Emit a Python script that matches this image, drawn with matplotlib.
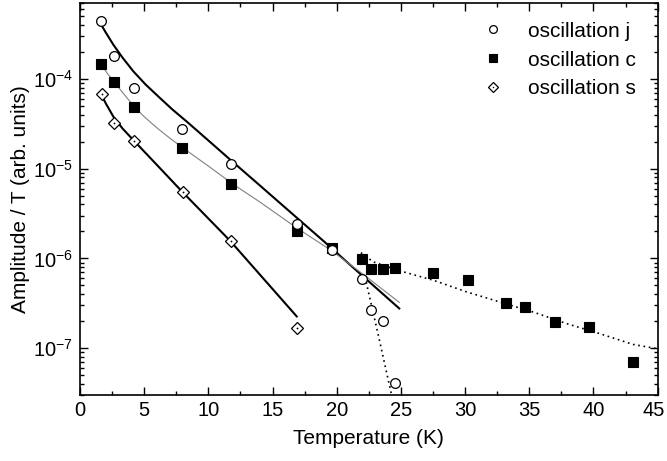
import matplotlib
matplotlib.use("Agg")
import matplotlib.pyplot as plt
from matplotlib.ticker import LogLocator, MultipleLocator, NullFormatter
from matplotlib.transforms import ScaledTranslation

# measured points (Temperature K, Amplitude/T)
j_T = [1.64, 2.65, 4.18, 7.94, 11.76, 16.88, 19.60, 21.99, 22.66, 23.60, 24.53]
j_A = [4.4e-4, 1.79e-4, 7.85e-5, 2.76e-5, 1.13e-5, 2.42e-6, 1.24e-6, 5.87e-7, 2.64e-7, 1.99e-7, 4.07e-8]

c_T = [1.64, 2.67, 4.18, 7.94, 11.76, 16.88, 19.60, 21.99, 22.66, 23.60, 24.56,
       27.49, 30.22, 33.20, 34.68, 36.99, 39.66, 43.09]
c_A = [1.48e-4, 9.16e-5, 4.87e-5, 1.72e-5, 6.76e-6, 2.03e-6, 1.31e-6, 9.75e-7, 7.59e-7,
       7.59e-7, 7.8e-7, 6.86e-7, 5.68e-7, 3.17e-7, 2.91e-7, 1.96e-7, 1.74e-7, 6.94e-8]

s_T = [1.71, 2.67, 4.18, 8.00, 11.78, 16.88]
s_A = [6.73e-5, 3.27e-5, 2.05e-5, 5.55e-6, 1.56e-6, 1.69e-7]

# fit curves
j_fit_T = [1.64, 2.0, 2.59, 3.3, 4.15, 5.1, 6.23, 7.2, 8.31, 10.38, 11.76, 14.0, 16.88,
           19.0, 21.03, 22.33, 24.87]
j_fit_A = [4.05e-4, 3.31e-4, 2.42e-4, 1.74e-4, 1.22e-4, 8.71e-5, 6.14e-5, 4.57e-5, 3.36e-5,
           1.85e-5, 1.24e-5, 6.53e-6, 2.85e-6, 1.55e-6, 8.51e-7, 5.82e-7, 2.77e-7]

c_fit_T = [1.64, 2.1, 2.67, 3.4, 4.18, 5.0, 6.0, 7.0, 7.94, 10.0, 12.0, 14.0, 16.88,
           19.6, 22.0, 24.87]
c_fit_A = [1.47e-4, 1.17e-4, 9.23e-5, 6.84e-5, 5.01e-5, 3.80e-5, 2.85e-5, 2.19e-5, 1.74e-5,
           1.07e-5, 6.61e-6, 4.27e-6, 2.19e-6, 1.22e-6, 6.76e-7, 3.24e-7]

s_fit_T = [1.64, 2.0, 2.6, 3.3, 4.15, 5.97, 7.92, 11.68, 16.88]
s_fit_A = [6.79e-5, 5.37e-5, 3.80e-5, 2.82e-5, 2.09e-5, 1.11e-5, 5.62e-6, 1.58e-6, 2.26e-7]

c_high_T = [21.88, 22.84, 24.92, 27.52, 30.12, 32.71, 35.30, 37.90, 40.50, 43.09, 44.99]
c_high_A = [1.16e-6, 9.16e-7, 7.27e-7, 5.72e-7, 4.24e-7, 3.27e-7, 2.53e-7, 1.88e-7, 1.45e-7, 1.10e-7, 9.86e-8]

j_drop_T = [22.20, 23.25, 24.28]
j_drop_A = [6.22e-7, 1.37e-7, 2.97e-8]

x_ticks = [0, 5, 10, 15, 20, 25, 30, 35, 40, 45]

plt.rcParams.update({
    "font.family": ["Liberation Sans", "DejaVu Sans"],
    "mathtext.fontset": "custom",
    "mathtext.rm": "Liberation Sans",
    "mathtext.it": "Liberation Sans:italic",
    "mathtext.bf": "Liberation Sans:bold",
})

fig = plt.figure(figsize=(6.67, 4.61), dpi=100)
ax = fig.add_axes([0.120, 0.143, 0.866, 0.850])

ax.plot(j_fit_T, j_fit_A, color="black", lw=1.5, zorder=2)
ax.plot(c_fit_T, c_fit_A, color="#808080", lw=0.8, zorder=2)
ax.plot(s_fit_T, s_fit_A, color="black", lw=1.5, zorder=2)
ax.plot(c_high_T, c_high_A, color="black", lw=1.2, ls=(0, (1, 2.2)), zorder=2)
ax.plot(j_drop_T, j_drop_A, color="black", lw=1.2, ls=(0, (1, 2.2)), zorder=2)

h_c, = ax.plot(c_T, c_A, ls="none", marker="s", ms=6.5, mfc="black", mec="black",
               mew=0.8, zorder=3)
h_j, = ax.plot(j_T, j_A, ls="none", marker="o", ms=7, mfc="white", mec="black",
               mew=0.9, zorder=4)
h_s, = ax.plot(s_T, s_A, ls="none", marker="D", ms=6.3, mfc="white", mec="black",
               mew=0.9, zorder=4)
h_sd, = ax.plot(s_T, s_A, ls="none", marker="o", ms=1.3, mfc="black", mec="black",
                mew=0, zorder=5)

ax.set_yscale("log")
ax.set_xlim(0, 45)
ax.set_ylim(3e-8, 7e-4)
ax.set_xticks(x_ticks)
ax.xaxis.set_minor_locator(MultipleLocator(2.5))
ax.yaxis.set_major_locator(LogLocator(base=10, numticks=20))
ax.yaxis.set_minor_locator(LogLocator(base=10, subs=range(2, 10), numticks=20))
ax.yaxis.set_minor_formatter(NullFormatter())

ax.tick_params(which="both", direction="in", top=True, right=True, width=1.0)
ax.tick_params(which="major", length=6, labelsize=14.5)
ax.tick_params(axis="x", which="major", pad=4)
ax.tick_params(axis="y", which="major", pad=5)
ax.tick_params(which="minor", length=3)
for sp in ax.spines.values():
    sp.set_linewidth(1.2)

# nudge the last x label so it stays inside the canvas
last = ax.xaxis.get_major_ticks()[-1].label1
last.set_transform(last.get_transform() + ScaledTranslation(-4 / 100, 0, fig.dpi_scale_trans))

ax.set_xlabel("Temperature (K)", fontsize=15, labelpad=7)
ax.set_ylabel("Amplitude / T (arb. units)", fontsize=15, labelpad=2)

ax.legend([h_j, h_c, (h_s, h_sd)], ["oscillation j", "oscillation c", "oscillation s"],
          loc="upper right", bbox_to_anchor=(0.987, 0.99), frameon=False,
          fontsize=15, markerscale=0.8, handlelength=1.0, handletextpad=1.15,
          labelspacing=0.47, borderaxespad=0.3)

fig.savefig("out.png", dpi=100)
